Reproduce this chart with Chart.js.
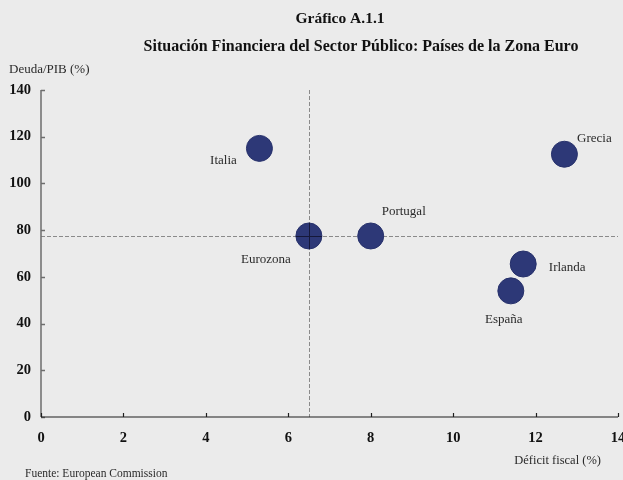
<!DOCTYPE html>
<html>
<head>
<meta charset="utf-8">
<script src="https://cdn.jsdelivr.net/npm/chart.js@4/dist/chart.umd.min.js"></script>
<style>
  html, body { margin: 0; padding: 0; background: #ebebeb; }
  #wrap { width: 623px; height: 480px; }
</style>
</head>
<body>
<div id="wrap"><canvas id="chart" width="623" height="480"></canvas></div>
<script>
// datos
const countries = ["Italia", "Eurozona", "Portugal", "Grecia", "Irlanda", "España"]
const deficit = [5.3, 6.5, 8.0, 12.7, 11.7, 11.4]
const debt = [115, 77.5, 77.5, 112.5, 65.5, 54]
const xTicks = [0, 2, 4, 6, 8, 10, 12, 14]
const yTicks = [0, 20, 40, 60, 80, 100, 120, 140]

// where each name sits relative to its bubble (px)
const labelOffset = {
    "Italia": [-36, 12],
    "Eurozona": [-43, 24],
    "Portugal": [33, -24],
    "Grecia": [30, -16],
    "Irlanda": [44, 4],
    "España": [-7, 29]
}

const serif = "'Liberation Serif', 'DejaVu Serif', serif"
const R = 13

const points = countries.map(function (c, i) {
    return { x: deficit[i], y: debt[i], name: c }
})

const extras = {
    id: 'extras',
    beforeDatasetsDraw(chart) {
        const ctx = chart.ctx
        const x = chart.scales.x
        const y = chart.scales.y
        const area = chart.chartArea
        const ez = countries.indexOf("Eurozona")
        ctx.save()
        // reference lines through the euro area
        ctx.strokeStyle = '#8a8a8a'
        ctx.lineWidth = 1
        ctx.setLineDash([4, 2])
        const px = Math.round(x.getPixelForValue(deficit[ez])) + 0.5
        const py = Math.round(y.getPixelForValue(debt[ez])) + 0.5
        ctx.beginPath()
        ctx.moveTo(px, area.top)
        ctx.lineTo(px, area.bottom)
        ctx.moveTo(area.left, py)
        ctx.lineTo(area.right, py)
        ctx.stroke()
        ctx.setLineDash([])

        // axes with inside ticks
        ctx.strokeStyle = '#6e6e6e'
        ctx.lineWidth = 1.5
        ctx.beginPath()
        ctx.moveTo(area.left, area.top)
        ctx.lineTo(area.left, area.bottom)
        for (const t of yTicks) {
            const ty = Math.round(y.getPixelForValue(t)) + 0.5
            ctx.moveTo(area.left, ty)
            ctx.lineTo(area.left + 4, ty)
        }
        ctx.stroke()
        ctx.strokeStyle = '#1e1e1e'
        ctx.lineWidth = 1.2
        ctx.beginPath()
        ctx.moveTo(area.left, area.bottom)
        ctx.lineTo(area.right, area.bottom)
        for (const t of xTicks) {
            const tx = Math.round(x.getPixelForValue(t)) + 0.5
            ctx.moveTo(tx, area.bottom)
            ctx.lineTo(tx, area.bottom - 4)
        }
        ctx.stroke()

        // x tick labels, centred on the ticks (the last one runs off the edge)
        ctx.fillStyle = '#111'
        ctx.font = 'bold 14.5px ' + serif
        ctx.textAlign = 'center'
        ctx.textBaseline = 'middle'
        for (const t of xTicks) {
            ctx.fillText(String(t), x.getPixelForValue(t), area.bottom + 21)
        }
        ctx.restore()
    },
    afterDatasetsDraw(chart) {
        const ctx = chart.ctx
        const meta = chart.getDatasetMeta(0)
        const ez = countries.indexOf("Eurozona")
        ctx.save()
        // dark cross on the euro area bubble
        const e = meta.data[ez]
        ctx.strokeStyle = '#15183a'
        ctx.lineWidth = 1
        ctx.beginPath()
        ctx.moveTo(Math.round(e.x) + 0.5, e.y - R)
        ctx.lineTo(Math.round(e.x) + 0.5, e.y + R)
        ctx.moveTo(e.x - R, Math.round(e.y) + 0.5)
        ctx.lineTo(e.x + R, Math.round(e.y) + 0.5)
        ctx.stroke()

        ctx.fillStyle = '#2a2a2a'
        ctx.font = '13px ' + serif
        ctx.textAlign = 'center'
        ctx.textBaseline = 'middle'
        meta.data.forEach(function (el, i) {
            const off = labelOffset[countries[i]]
            ctx.fillText(countries[i], el.x + off[0], el.y + off[1])
        })

        // titles and axis names
        ctx.fillStyle = '#111'
        ctx.font = 'bold 15.5px ' + serif
        ctx.fillText('Gráfico A.1.1', 340, 19)
        ctx.font = 'bold 16px ' + serif
        ctx.fillText('Situación Financiera del Sector Público: Países de la Zona Euro', 361, 47)
        ctx.font = '13px ' + serif
        ctx.fillStyle = '#2a2a2a'
        ctx.textAlign = 'left'
        ctx.fillText('Deuda/PIB (%)', 9, 70)
        ctx.textAlign = 'right'
        ctx.font = '12.5px ' + serif
        ctx.fillText('Déficit fiscal (%)', 601, 461)
        ctx.textAlign = 'left'
        ctx.font = '11.5px ' + serif
        ctx.fillText('Fuente: European Commission', 25, 474)
        ctx.restore()
    }
}

new Chart(document.getElementById('chart'), {
    type: 'scatter',
    data: {
        datasets: [{
            label: 'Países',
            data: points,
            pointRadius: R,
            pointHoverRadius: R,
            backgroundColor: '#2d3877',
            borderColor: '#27316b',
            borderWidth: 1
        }]
    },
    options: {
        responsive: false,
        animation: false,
        layout: { autoPadding: false, padding: { top: 90, left: 0, right: 5, bottom: 0 } },
        plugins: {
            legend: { display: false },
            tooltip: { enabled: false }
        },
        scales: {
            x: {
                type: 'linear',
                min: 0,
                max: 14,
                afterFit(s) { s.height = 63 },
                afterBuildTicks(s) { s.ticks = xTicks.map(v => ({ value: v })) },
                grid: { display: false, drawTicks: false },
                border: { display: false },
                ticks: { display: false }
            },
            y: {
                min: 0,
                max: 140,
                afterFit(s) { s.width = 41; s.paddingTop = 0; s.paddingBottom = 0 },
                afterBuildTicks(s) { s.ticks = yTicks.map(v => ({ value: v })) },
                grid: { display: false, drawTicks: false },
                border: { display: false },
                ticks: {
                    padding: 10,
                    color: '#111',
                    font: { family: serif, size: 14.5, weight: 'bold' }
                }
            }
        }
    },
    plugins: [extras]
})
</script>
</body>
</html>
